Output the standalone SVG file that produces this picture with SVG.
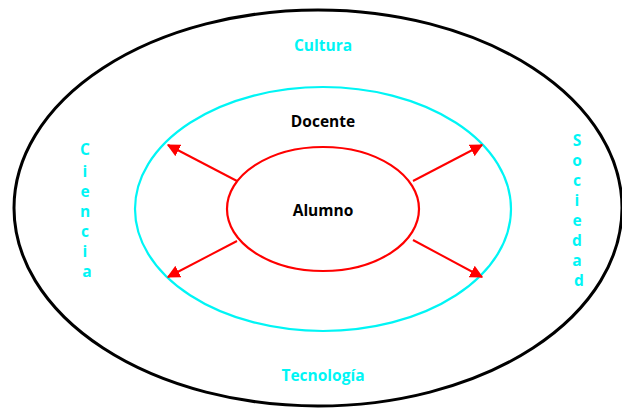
<svg xmlns="http://www.w3.org/2000/svg" width="622" height="409" viewBox="0 0 622 409">
  <style>
    .lbl { font-family: "Open Sans", "Liberation Sans", sans-serif; font-weight: bold; font-size: 15.5px; text-anchor: middle; }
    .cyan { fill: #00f5f5; }
    .dark { fill: #000; }
    .arrow { stroke: #ff0000; stroke-width: 2; fill: none; marker-end: url(#head); }
  </style>
  <defs>
    <marker id="head" viewBox="0 0 10 10" refX="9" refY="5" markerWidth="6.5" markerHeight="6.5" orient="auto" markerUnits="strokeWidth">
      <path d="M0,0 L10,5 L0,10 Z" fill="#ff0000"/>
    </marker>
  </defs>
  <rect width="622" height="409" fill="#fff"/>

  <g id="entorno">
    <ellipse cx="318" cy="208" rx="304" ry="198" fill="none" stroke="#000" stroke-width="3"/>
    <text class="lbl cyan" x="323" y="51">Cultura</text>
    <text class="lbl cyan" x="323" y="381">Tecnología</text>
    <text class="lbl cyan">
      <tspan x="87" y="155">C</tspan>
      <tspan x="87" y="177">i</tspan>
      <tspan x="87" y="197">e</tspan>
      <tspan x="87" y="217">n</tspan>
      <tspan x="87" y="237">c</tspan>
      <tspan x="87" y="257">i</tspan>
      <tspan x="87" y="277">a</tspan>
    </text>
    <text class="lbl cyan">
      <tspan x="579" y="146">S</tspan>
      <tspan x="579" y="166">o</tspan>
      <tspan x="579" y="186">c</tspan>
      <tspan x="579" y="206">i</tspan>
      <tspan x="579" y="226">e</tspan>
      <tspan x="579" y="246">d</tspan>
      <tspan x="579" y="266">a</tspan>
      <tspan x="579" y="286">d</tspan>
    </text>
  </g>

  <g id="docente">
    <ellipse cx="323" cy="209" rx="188" ry="122" fill="none" stroke="#00f5f5" stroke-width="2.2"/>
    <text class="lbl dark" x="323" y="127">Docente</text>
  </g>

  <g id="alumno">
    <ellipse cx="323" cy="209" rx="96" ry="62" fill="none" stroke="#ff0000" stroke-width="2.2"/>
    <text class="lbl dark" x="323" y="216">Alumno</text>
  </g>

  <g id="connectors">
    <line class="arrow" x1="237" y1="181" x2="168" y2="145"/>
    <line class="arrow" x1="237" y1="241" x2="168" y2="277"/>
    <line class="arrow" x1="413" y1="181" x2="482" y2="145"/>
    <line class="arrow" x1="413" y1="240" x2="482" y2="277"/>
  </g>
</svg>
